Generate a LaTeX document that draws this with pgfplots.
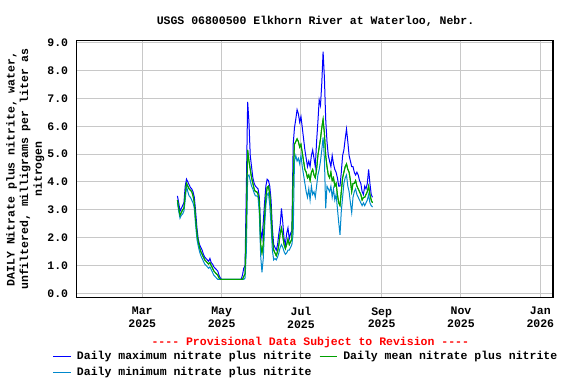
\documentclass[border=0pt]{standalone}
\usepackage{pgfplots}
\pgfplotsset{compat=1.18}
\usepackage{pgfplotstable}
\usepackage{fontspec}
\setmainfont{Liberation Mono}[Ligatures=TeXOff]
\definecolor{maxc}{RGB}{0,0,255}
\definecolor{meanc}{RGB}{0,160,0}
\definecolor{minc}{RGB}{0,136,204}
\definecolor{gridc}{RGB}{200,200,200}

\pgfplotstableread{
day max mean min
86 3.50 3.35 3.25
87 3.25 3.05 2.95
88 2.95 2.80 2.70
89 3.05 2.90 2.80
90 3.15 3.00 2.85
91 3.25 3.05 2.95
92 3.85 3.55 3.35
93 4.10 3.95 3.85
94 4.00 3.85 3.65
95 3.90 3.75 3.50
96 3.80 3.70 3.45
97 3.75 3.65 3.35
98 3.65 3.50 3.25
99 3.45 3.25 3.05
100 2.95 2.65 2.45
101 2.35 2.15 1.95
102 1.95 1.85 1.70
103 1.75 1.65 1.50
104 1.65 1.50 1.35
105 1.55 1.40 1.25
106 1.40 1.30 1.15
107 1.30 1.20 1.05
108 1.25 1.15 1.00
109 1.20 1.10 0.95
110 1.15 1.05 0.90
111 1.25 1.10 0.95
112 1.10 1.00 0.85
113 1.05 0.90 0.75
114 0.95 0.80 0.65
115 0.90 0.75 0.60
116 0.85 0.70 0.55
117 0.80 0.65 0.50
118 0.65 0.55 0.50
119 0.55 0.50 0.50
120 0.50 0.50 0.50
125 0.50 0.50 0.50
130 0.50 0.50 0.50
135 0.50 0.50 0.50
136 0.65 0.50 0.50
137 0.90 0.60 0.50
138 1.00 0.70 0.55
139 3.80 2.50 1.50
140 6.88 5.15 4.20
141 6.15 4.75 4.25
142 4.95 4.45 4.05
143 4.55 4.15 3.85
144 4.15 3.95 3.75
145 3.95 3.75 3.60
146 3.85 3.65 3.50
147 3.80 3.65 3.50
148 3.75 3.55 3.45
149 3.45 3.25 2.85
150 2.25 1.75 1.35
151 1.95 1.45 0.75
152 2.55 1.75 1.25
153 3.25 2.75 2.35
154 3.85 3.45 3.15
155 4.10 3.80 3.55
156 4.05 3.85 3.60
157 3.85 3.55 3.15
158 3.35 2.95 2.45
159 2.35 1.95 1.55
160 1.75 1.55 1.20
161 1.65 1.45 1.25
162 1.55 1.35 1.20
163 1.75 1.50 1.30
164 2.15 1.75 1.45
165 2.45 2.15 1.65
166 3.05 2.35 1.75
167 2.55 2.05 1.65
168 1.95 1.75 1.50
169 1.75 1.60 1.40
170 2.15 1.75 1.45
171 2.35 1.95 1.55
172 1.95 1.75 1.55
173 2.15 1.85 1.65
174 2.25 1.95 1.75
175 5.35 4.15 2.15
176 5.95 5.35 4.75
177 6.25 5.45 4.95
178 6.60 5.55 4.75
179 6.45 5.45 4.85
180 6.15 5.25 4.65
181 6.35 5.35 4.95
182 5.95 5.05 4.55
183 5.55 4.75 4.25
184 5.15 4.45 3.95
185 4.85 4.35 3.65
186 4.55 4.15 3.45
187 4.75 4.25 3.75
188 4.55 4.05 3.35
189 4.95 4.35 3.85
190 5.15 4.45 3.55
191 4.85 4.25 3.65
192 4.55 4.15 3.45
193 5.45 4.45 3.85
194 6.15 4.95 4.25
195 6.95 5.25 4.45
196 6.75 5.55 4.75
197 7.55 5.95 5.15
198 8.68 6.25 5.60
199 7.75 5.75 4.85
200 6.25 4.95 3.05
201 5.45 4.55 3.85
202 4.95 4.25 3.75
203 4.75 4.15 3.65
204 4.55 4.35 3.85
205 4.95 4.05 3.45
206 4.65 4.15 3.75
207 4.45 3.85 3.35
208 4.35 3.95 3.55
209 4.15 3.55 3.05
210 3.85 3.25 2.55
211 3.85 3.15 2.10
212 4.35 3.65 2.95
213 4.95 4.15 3.45
214 5.15 4.35 3.95
215 5.55 4.55 4.15
216 5.90 4.65 4.25
217 5.45 4.45 3.85
218 4.95 4.35 3.65
219 4.75 4.05 3.25
220 4.55 3.65 2.90
221 4.55 3.95 3.45
222 4.35 3.95 3.65
223 4.25 4.05 3.75
224 4.35 3.85 3.55
225 4.25 3.75 3.45
226 4.05 3.65 3.35
227 3.95 3.55 3.25
228 3.65 3.35 3.15
229 3.55 3.45 3.25
230 3.85 3.45 3.15
231 3.75 3.55 3.25
232 3.95 3.65 3.35
233 4.45 3.85 3.55
234 3.95 3.55 3.25
235 3.55 3.35 3.15
236 3.45 3.25 3.10
}\nitrate

\begin{document}
\begin{tikzpicture}[font=\fontsize{11.5bp}{13.7bp}\selectfont\bfseries]
\path[use as bounding box] (0,0) rectangle (576bp,384bp);
\node[anchor=base] at (315.5bp,359.7bp) {USGS 06800500 Elkhorn River at Waterloo, Nebr.};
\node[anchor=base, text=red] at (310.3bp,39bp) {---- Provisional Data Subject to Revision ----};
\begin{axis}[
  at={(76.7bp,86.7bp)}, anchor=south west,
  scale only axis, width=476.3bp, height=256.6bp,
  xmin=8.57, xmax=374.76, ymin=-0.144, ymax=9.075,
  xtick={59,120,181,243,304,365},
  xticklabels={{Mar\\2025},{May\\2025},{Jul\\2025},{Sep\\2025},{Nov\\2025},{Jan\\2026}},
  ytick={0,1,2,3,4,5,6,7,8,9},
  /pgf/number format/fixed, /pgf/number format/fixed zerofill,
  /pgf/number format/precision=1, /pgf/number format/assume math mode=true,
  major tick length=0pt,
  grid=major, major grid style={gridc, line width=1bp},
  axis line style={black, line width=1.2bp},
  xticklabel style={align=center, anchor=north, inner sep=0pt, yshift=-9.9bp,
    font=\fontsize{11.5bp}{12.7bp}\selectfont\bfseries},
  yticklabel style={anchor=east, inner sep=0pt, xshift=-8.4bp,
    font=\fontsize{11.5bp}{13.7bp}\selectfont\bfseries},
  ylabel={DAILY Nitrate plus nitrite, water,\\unfiltered, milligrams per liter as\\nitrogen},
  ylabel style={at={(axis description cs:-0.108,0.5)}, anchor=center, align=center,
    font=\fontsize{11.5bp}{13.7bp}\selectfont\bfseries},
  legend columns=2,
  legend cell align=left,
  legend image code/.code={\draw[#1, line width=1bp] (0bp,0bp) -- (17.7bp,0bp);},
  legend style={draw=none, fill=none, at={(axis description cs:-0.0504,-0.2073)},
    anchor=north west, inner sep=0pt, outer sep=0pt, row sep=4bp,
    nodes={inner sep=0pt, text height=9bp, text depth=3bp},
    /tikz/every odd column/.style={column sep=5.6bp},
    /tikz/every even column/.style={column sep=7.4bp},
    font=\fontsize{11.5bp}{13.7bp}\selectfont\bfseries},
]
\addplot[maxc, line width=1bp, no marks] table[x=day, y=max] {\nitrate};
\addlegendentry{Daily maximum nitrate plus nitrite}
\addplot[meanc, line width=1bp, no marks] table[x=day, y=mean] {\nitrate};
\addlegendentry{Daily mean nitrate plus nitrite}
\addplot[minc, line width=1bp, no marks] table[x=day, y=min] {\nitrate};
\addlegendentry{Daily minimum nitrate plus nitrite}
\addplot[meanc, line width=1bp, no marks, forget plot] table[x=day, y=mean] {\nitrate};
\end{axis}
\end{tikzpicture}
\end{document}
